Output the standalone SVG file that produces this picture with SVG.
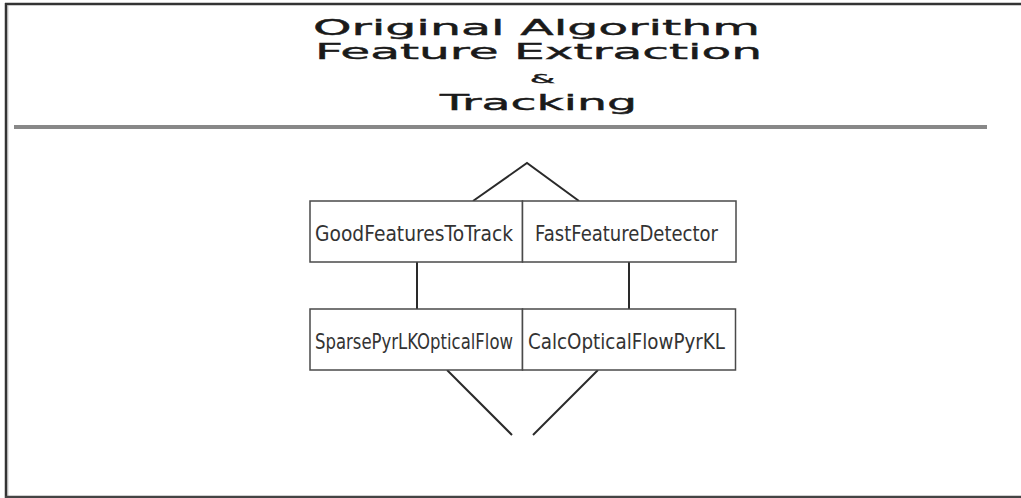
<svg xmlns="http://www.w3.org/2000/svg" width="1021" height="498" viewBox="0 0 1021 498">
  <style>
    .title { font-family: "DejaVu Sans", "Liberation Sans", sans-serif; fill: #1a1a1a; stroke: #1a1a1a; stroke-width: 0.4; }
    .box { fill: #ffffff; stroke: #4a4a4a; stroke-width: 1.5; }
    .label { font-family: "DejaVu Sans", "Liberation Sans", sans-serif; font-size: 21px; fill: #333333; }
    .link { stroke: #2a2a2a; stroke-width: 2; fill: none; }
  </style>
  <rect x="0" y="0" width="1021" height="498" fill="#ffffff"/>

  <!-- page frame: top, left and bottom edges -->
  <g id="frame">
    <line x1="5" y1="4" x2="1021" y2="4" stroke="#333333" stroke-width="2.5"/>
    <line x1="6" y1="3" x2="6" y2="498" stroke="#333333" stroke-width="2.5"/>
    <line x1="7.8" y1="5" x2="7.8" y2="496" stroke="#aaaaaa" stroke-width="1"/>
    <line x1="5" y1="497" x2="1021" y2="497" stroke="#444444" stroke-width="2.5"/>
  </g>

  <!-- heading, wide lettering -->
  <g id="heading">
    <text class="title" x="313" y="35" font-size="21" textLength="447" lengthAdjust="spacingAndGlyphs">Original Algorithm</text>
    <text class="title" x="315" y="59" font-size="21" textLength="447" lengthAdjust="spacingAndGlyphs">Feature Extraction</text>
    <text class="title" x="530" y="83" font-size="12" textLength="25" lengthAdjust="spacingAndGlyphs">&amp;</text>
    <text class="title" x="440" y="110" font-size="21" textLength="197" lengthAdjust="spacingAndGlyphs">Tracking</text>
  </g>

  <line id="rule" x1="14" y1="127" x2="987" y2="127" stroke="#888888" stroke-width="4"/>

  <!-- connectors -->
  <g id="connectors">
    <polyline class="link" points="473,201 527,163 579,201"/>
    <line class="link" x1="417" y1="262" x2="417" y2="309"/>
    <line class="link" x1="629" y1="262" x2="629" y2="309"/>
    <line class="link" x1="447" y1="370" x2="512" y2="435"/>
    <line class="link" x1="598" y1="370" x2="533" y2="435"/>
  </g>

  <!-- nodes; labels are set in a narrowed face -->
  <g id="node-goodfeatures">
    <rect class="box" x="310" y="201" width="212.5" height="61"/>
    <text class="label" transform="translate(315,241) scale(0.75,1)" x="0" y="0" textLength="264" lengthAdjust="spacingAndGlyphs">GoodFeaturesToTrack</text>
  </g>
  <g id="node-fastfeature">
    <rect class="box" x="522.5" y="201" width="213.5" height="61"/>
    <text class="label" transform="translate(535,241) scale(0.75,1)" x="0" y="0" textLength="244" lengthAdjust="spacingAndGlyphs">FastFeatureDetector</text>
  </g>
  <g id="node-sparsepyrlk">
    <rect class="box" x="310" y="309" width="212.5" height="61"/>
    <text class="label" transform="translate(315,349) scale(0.75,1)" x="0" y="0" textLength="264" lengthAdjust="spacingAndGlyphs">SparsePyrLKOpticalFlow</text>
  </g>
  <g id="node-calcopticalflow">
    <rect class="box" x="522.5" y="309" width="213" height="61"/>
    <text class="label" transform="translate(528,349) scale(0.75,1)" x="0" y="0" textLength="262.7" lengthAdjust="spacingAndGlyphs">CalcOpticalFlowPyrKL</text>
  </g>
</svg>
